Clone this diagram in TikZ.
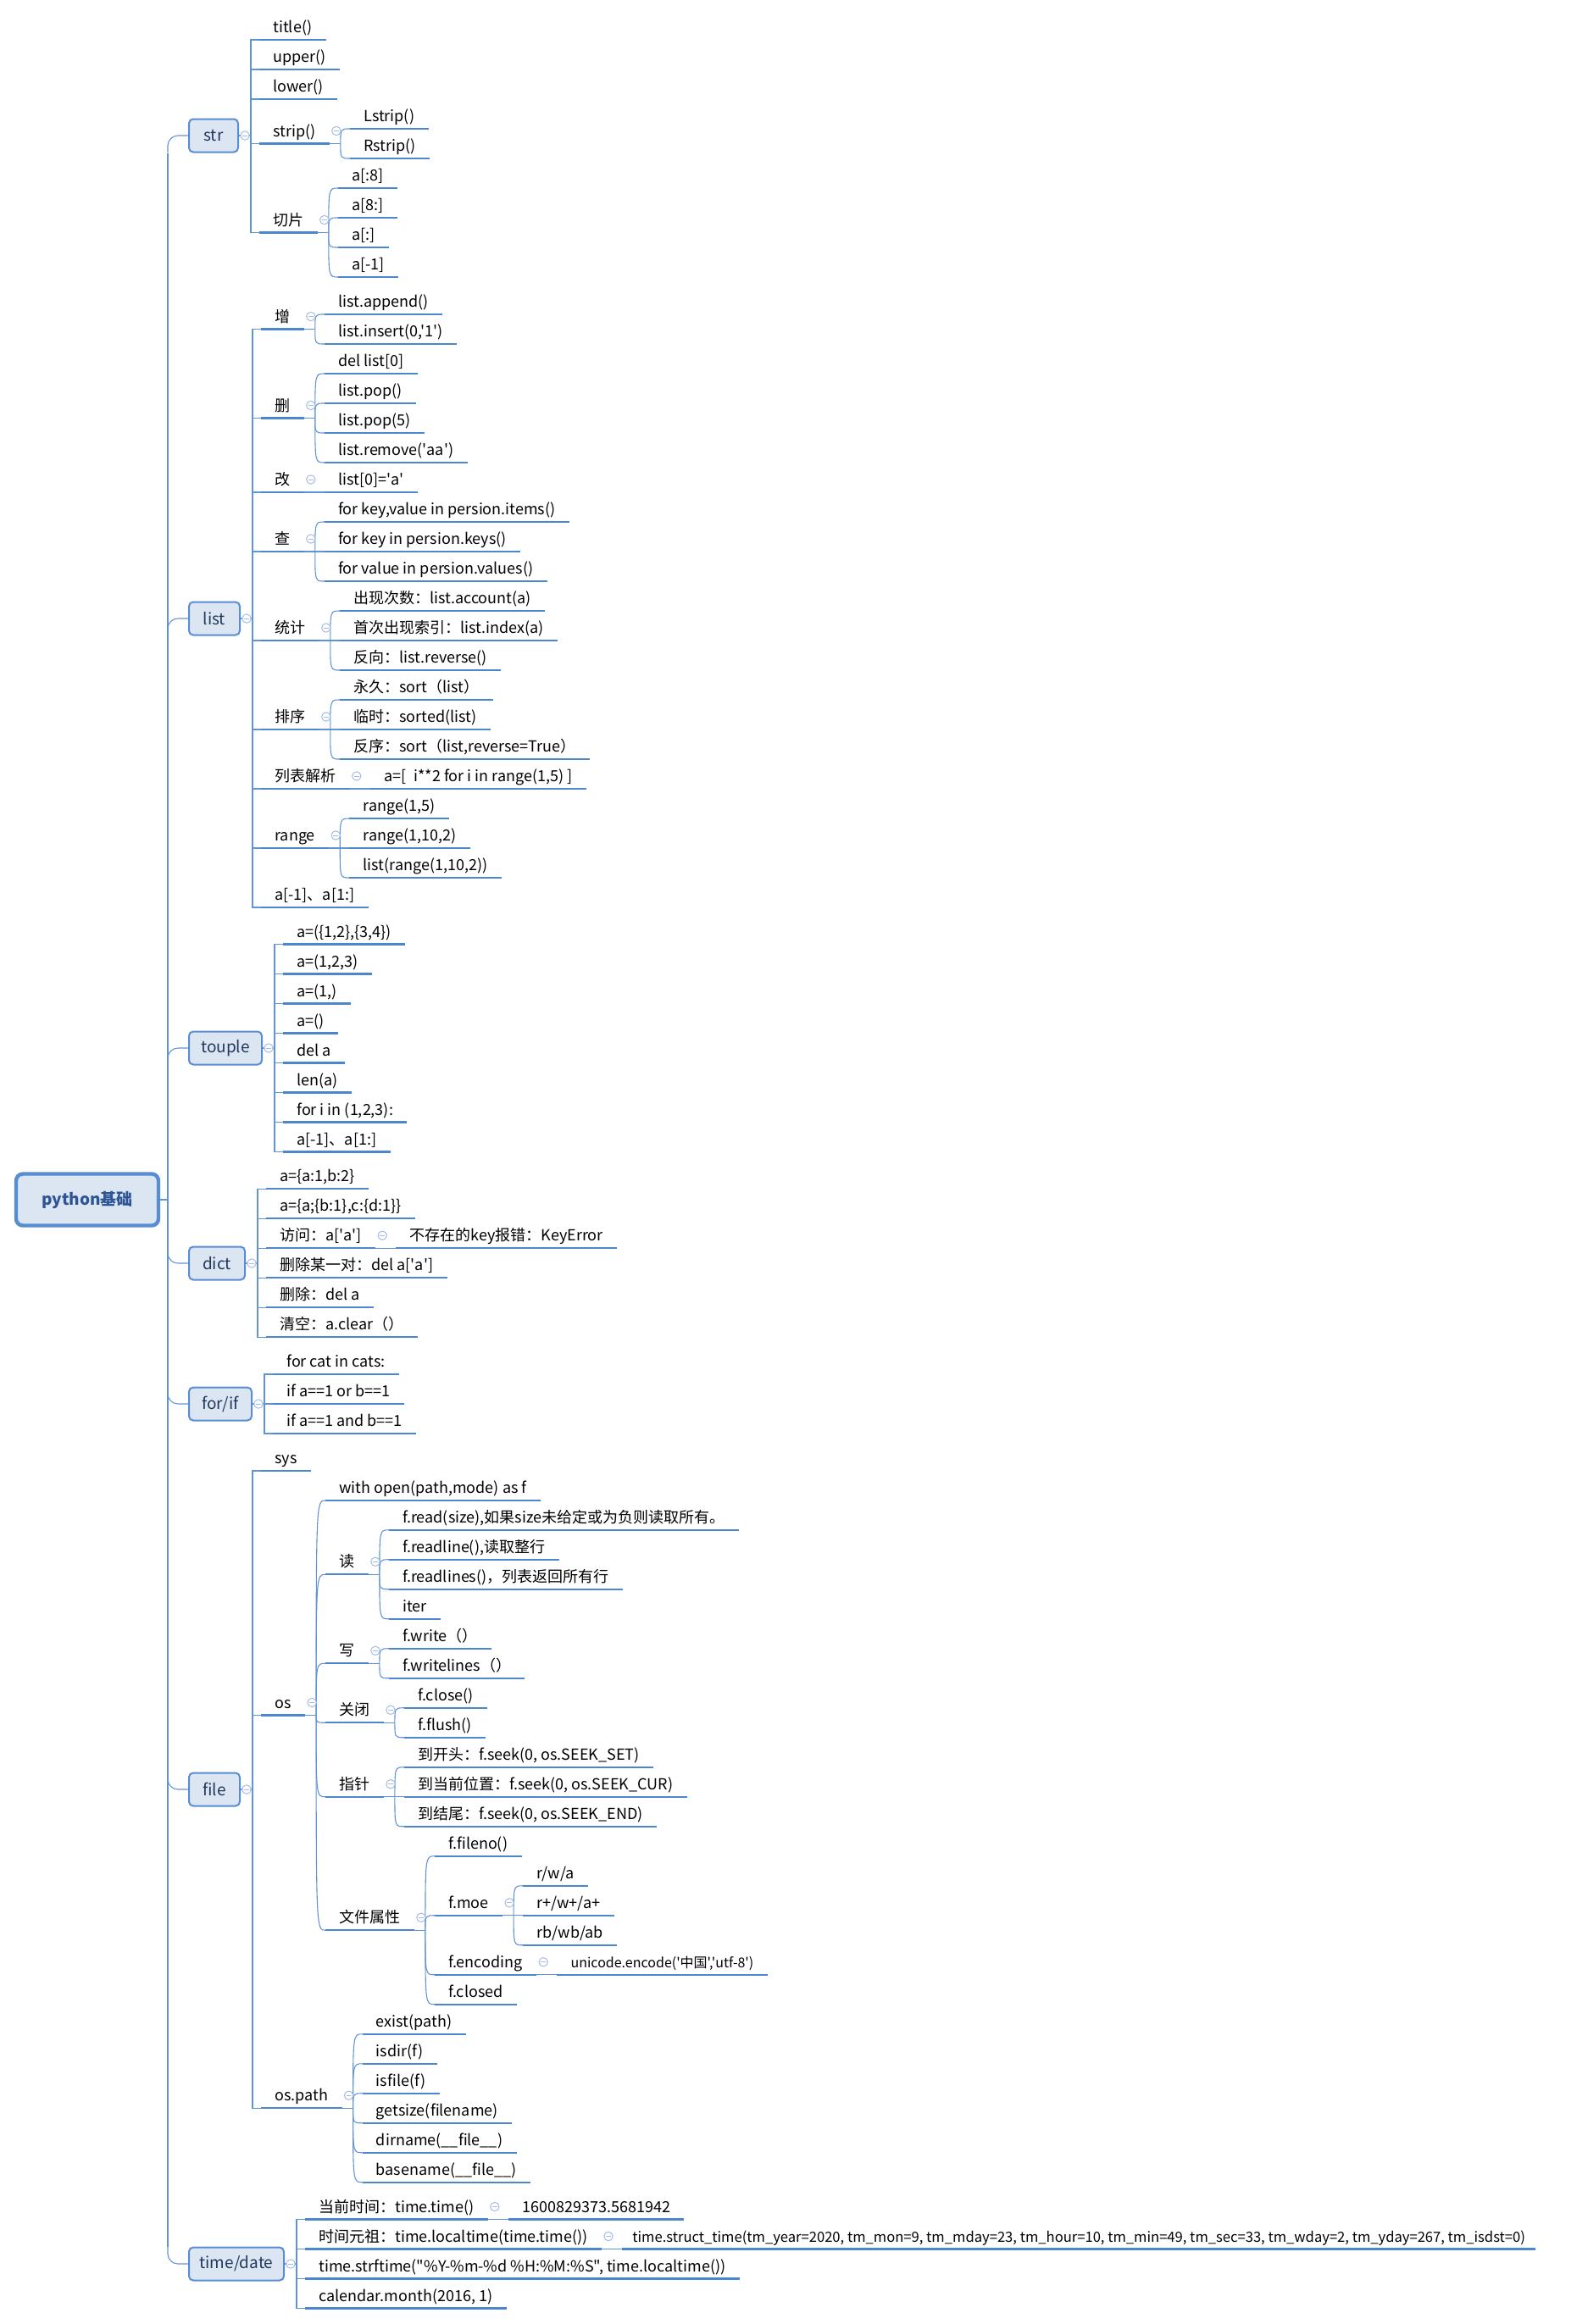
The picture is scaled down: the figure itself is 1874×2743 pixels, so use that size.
\documentclass[tikz,border=0pt]{standalone}
\usepackage{fontspec}
\setmainfont{Noto Sans CJK SC}[Ligatures=TeXOff]
\definecolor{mmline}{RGB}{76,134,208}
\definecolor{mmlink}{RGB}{96,148,214}
\definecolor{boxfill}{RGB}{220,230,243}
\definecolor{boxline}{RGB}{88,141,211}
\definecolor{boxtext}{RGB}{33,56,92}
\definecolor{roottext}{RGB}{45,84,148}
\definecolor{foldc}{RGB}{165,188,230}

\begin{document}
\begin{tikzpicture}[x=.5pt,y=-.5pt,font=\fontsize{9}{11}\selectfont,
 link/.style={draw=mmlink,line width=.55pt},
 uline/.style={draw=mmline,line width=1.2pt},
 leaf/.style={anchor=south west,inner xsep=8pt,inner ysep=2.5pt,text height=6.5pt,text depth=1.5pt,
  append after command={(\tikzlastnode.south west) edge[uline] (\tikzlastnode.south east)}},
 cat/.style={draw=boxline,fill=boxfill,line width=1pt,rounded corners=2.5pt,anchor=west,
  minimum height=19.5pt,text=boxtext,font=\fontsize{9.5}{11}\selectfont},
 fold/.style={circle,draw=foldc,fill=white,line width=.5pt,minimum size=5.2pt,inner sep=0pt,
  path picture={\draw[foldc,line width=.5pt] ([xshift=-1.4pt]path picture bounding box.center)
   -- ([xshift=1.4pt]path picture bounding box.center);}}]
 \useasboundingbox (0,0) rectangle (1874,2743);

 % root and branches
 \node[draw=boxline,fill=boxfill,line width=2.2pt,rounded corners=4pt,minimum width=84pt,
  minimum height=30.5pt,text=roottext,font=\fontsize{9.5}{11}\selectfont\bfseries] (root) at (103,1416) {python基础};
 \node[cat,minimum width=29pt] (str) at (222,160) {str};
 \node[cat,minimum width=30pt] (list) at (222,730) {list};
 \node[cat,minimum width=43pt] (touple) at (222,1237) {touple};
 \node[cat,minimum width=33pt] (dict) at (222,1491) {dict};
 \node[cat,minimum width=37pt] (forif) at (222,1657) {for/if};
 \node[cat,minimum width=30pt] (file) at (222,2112) {file};
 \node[cat,minimum width=56pt] (time) at (222,2672) {time/date};
 \draw[link] (root.east) -- (198,1416) coordinate (trunk);
 \draw[link] (trunk |- str.south) -- (trunk |- time.north);
 \foreach \bx/\d in {str/1,list/1,touple/1,dict/-1,forif/-1,file/-1,time/-1}
  \draw[link,rounded corners=6pt] (trunk |- \bx.west) ++(0,20*\d) |- (\bx.west);

 % str
 \foreach \tx/\y [count=\i] in {title()/47,upper()/82,lower()/117,strip()/169.5,切片/274.5}
  \node[leaf,xshift=12pt] (str\i) at (str.east |- 0,\y) {\tx};
 \foreach \tx [count=\i] in {Lstrip(),Rstrip()}
  \node[leaf,xshift=12pt] (str4\i) at (str4.south east |- 0,117+35*\i) {\tx};
 \foreach \tx [count=\i] in {a[:8],a[8:],a[:],a[-1]}
  \node[leaf,xshift=12pt] (str5\i) at (str5.south east |- 0,187+35*\i) {\tx};

 % list
 \foreach \tx/\y [count=\i] in {增/388.5,删/493.5,改/581,查/651,统计/756,排序/861,列表解析/931,range/1001,a[-1]、a[1:]/1071}
  \node[leaf,xshift=12pt] (list\i) at (list.east |- 0,\y) {\tx};
 \foreach \tx [count=\i] in {list.append(),{list.insert(0,'1')}}
  \node[leaf,xshift=12pt] (list1\i) at (list1.south east |- 0,336+35*\i) {\tx};
 \foreach \tx [count=\i] in {del list[0],list.pop(),list.pop(5),list.remove('aa')}
  \node[leaf,xshift=12pt] (list2\i) at (list2.south east |- 0,406+35*\i) {\tx};
 \node[leaf,xshift=12pt] (list31) at (list3.south east) {list[0]='a'};
 \foreach \tx [count=\i] in {{for key,value in persion.items()},for key in persion.keys(),for value in persion.values()}
  \node[leaf,xshift=12pt] (list4\i) at (list4.south east |- 0,581+35*\i) {\tx};
 \foreach \tx [count=\i] in {出现次数：list.account(a),首次出现索引：list.index(a),反向：list.reverse()}
  \node[leaf,xshift=12pt] (list5\i) at (list5.south east |- 0,686+35*\i) {\tx};
 \foreach \tx [count=\i] in {永久：sort（list）,临时：sorted(list),{反序：sort（list,reverse=True）}}
  \node[leaf,xshift=12pt] (list6\i) at (list6.south east |- 0,791+35*\i) {\tx};
 \node[leaf,xshift=12pt] (list71) at (list7.south east) {a=[\enspace i**2 for i in range(1,5) ]};
 \foreach \tx [count=\i] in {{range(1,5)},{range(1,10,2)},{list(range(1,10,2))}}
  \node[leaf,xshift=12pt] (list8\i) at (list8.south east |- 0,931+35*\i) {\tx};

 % touple
 \foreach \tx [count=\i] in {{a=(\{1,2\},\{3,4\})},{a=(1,2,3)},{a=(1,)},a=(),del a,len(a),{for i in (1,2,3):},a[-1]、a[1:]}
  \node[leaf,xshift=12pt] (touple\i) at (touple.east |- 0,1079.5+35*\i) {\tx};

 % dict
 \foreach \tx [count=\i] in {{a=\{a:1,b:2\}},{a=\{a;\{b:1\},c:\{d:1\}\}},访问：a['a'],删除某一对：del a['a'],删除：del a,清空：a.clear（）}
  \node[leaf,xshift=12pt] (dict\i) at (dict.east |- 0,1368.25+35*\i) {\tx};
 \node[leaf,xshift=12pt] (dict31) at (dict3.south east) {不存在的key报错：KeyError};

 % for/if
 \foreach \tx [count=\i] in {for cat in cats:,if a==1 or b==1,if a==1 and b==1}
  \node[leaf,xshift=12pt] (forif\i) at (forif.east |- 0,1587+35*\i) {\tx};

 % file
 \foreach \tx/\y [count=\i] in {sys/1736,os/2024.5,os.path/2488.25}
  \node[leaf,xshift=12pt] (file\i) at (file.east |- 0,\y) {\tx};
 \foreach \tx/\y [count=\i] in {{with open(path,mode) as f}/1771,读/1858.25,写/1963.25,关闭/2033.25,指针/2120.75,文件属性/2278.25}
  \node[leaf,xshift=12pt] (file2\i) at (file2.south east |- 0,\y) {\tx};
 \foreach \tx [count=\i] in {{f.read(size),如果size未给定或为负则读取所有。},{f.readline(),读取整行},f.readlines()，列表返回所有行,iter}
  \node[leaf,xshift=12pt] (file22\i) at (file22.south east |- 0,1770.75+35*\i) {\tx};
 \foreach \tx [count=\i] in {f.write（）,f.writelines（）}
  \node[leaf,xshift=12pt] (file23\i) at (file23.south east |- 0,1910.75+35*\i) {\tx};
 \foreach \tx [count=\i] in {f.close(),f.flush()}
  \node[leaf,xshift=12pt] (file24\i) at (file24.south east |- 0,1980.75+35*\i) {\tx};
 \foreach \tx [count=\i] in {{到开头：f.seek(0, os.SEEK\_SET)},{到当前位置：f.seek(0, os.SEEK\_CUR)},{到结尾：f.seek(0, os.SEEK\_END)}}
  \node[leaf,xshift=12pt] (file25\i) at (file25.south east |- 0,2050.75+35*\i) {\tx};
 \foreach \tx/\y [count=\i] in {f.fileno()/2190.75,f.moe/2260.75,f.encoding/2330.75,f.closed/2365.75}
  \node[leaf,xshift=12pt] (file26\i) at (file26.south east |- 0,\y) {\tx};
 \foreach \tx [count=\i] in {{r/w/a},{r+/w+/a+},{rb/wb/ab}}
  \node[leaf,xshift=12pt] (file262\i) at (file262.south east |- 0,2190.75+35*\i) {\tx};
 \node[leaf,xshift=12pt,font=\fontsize{8}{10}\selectfont] (file2631) at (file263.south east) {unicode.encode('中国','utf-8')};
 \foreach \tx [count=\i] in {exist(path),isdir(f),isfile(f),getsize(filename),dirname(\_\_file\_\_),basename(\_\_file\_\_)}
  \node[leaf,xshift=12pt] (file3\i) at (file3.south east |- 0,2365.75+35*\i) {\tx};

 % time/date
 \foreach \tx/\y [count=\i] in {当前时间：time.time()/2619.5,时间元祖：time.localtime(time.time())/2654.5,{time.strftime("\%Y-\%m-\%d \%H:\%M:\%S", time.localtime())}/2689.5,{calendar.month(2016, 1)}/2724.5}
  \node[leaf,xshift=12pt] (time\i) at (time.east |- 0,\y) {\tx};
 \node[leaf,xshift=12pt] (time11) at (time1.south east) {1600829373.5681942};
 \node[leaf,xshift=12pt,inner xsep=6pt,font=\fontsize{8.3}{10}\selectfont] (time21) at (time2.south east) {time.struct\_time(tm\_year=2020, tm\_mon=9, tm\_mday=23, tm\_hour=10, tm\_min=49, tm\_sec=33, tm\_wday=2, tm\_yday=267, tm\_isdst=0)};

 % spines of the branches
 \foreach \bx/\nn in {str/5,list/9,touple/8,dict/6,forif/3,file/3,time/4}{
  \draw[link] (\bx.east) -- ++(7pt,0pt);
  \draw[link] (\bx1.south west) -- ++(-5pt,0pt) |- (\bx\nn.south west);
  \foreach \i in {1,...,\nn} \draw[link] (\bx\i.south west) -- ++(-5pt,0pt);
  \node[fold] at ([xshift=3.5pt]\bx.east) {};
 }

 % curved links to sub items
 \foreach \pa/\nn in {str4/2,str5/4,list1/2,list2/4,list3/1,list4/3,list5/3,list6/3,list7/1,list8/3,
   dict3/1,file2/6,file22/4,file23/2,file24/2,file25/3,file26/4,file262/3,file263/1,file3/6,time1/1,time2/1}{
  \draw[link] (\pa.south east) -- ++(6.5pt,0pt) coordinate (J);
  \foreach \i in {1,...,\nn}
   \draw[link] (J) .. controls (J |- \pa\i.south west) .. (\pa\i.south west);
  \node[fold] at ([shift={(4pt,7.5pt)}]\pa.south east) {};
 }
\end{tikzpicture}
\end{document}
